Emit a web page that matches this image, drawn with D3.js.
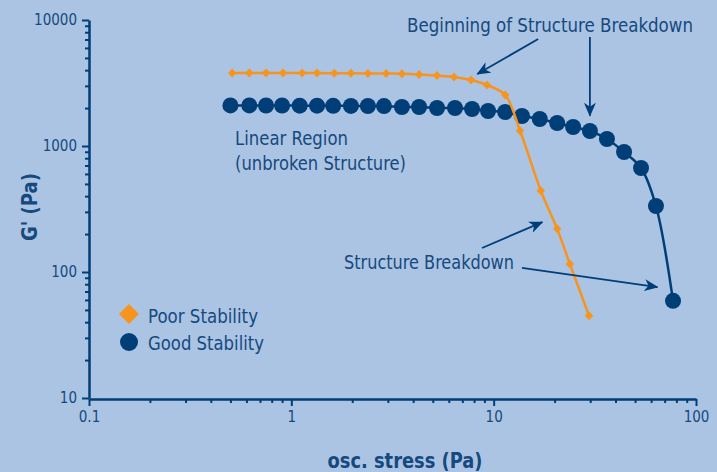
<!DOCTYPE html>
<html lang="en">
<head>
<meta charset="utf-8">
<title>G' vs osc. stress</title>
<script src="https://cdn.jsdelivr.net/npm/d3@7/dist/d3.min.js"></script>
<style>
  html, body { margin: 0; padding: 0; background: #abc4e4; }
  svg { display: block; }
  text { font-family: "DejaVu Sans Condensed", "Liberation Sans Narrow", "DejaVu Sans", sans-serif; fill: #16497d; }
  .tick text { font-size: 15px; }
</style>
</head>
<body>
<div id="chart"></div>
<script>
// stress values (Pa) and G' (Pa)
var poorX = [0.51, 0.62, 0.75, 0.91, 1.13, 1.34, 1.63, 1.97, 2.39, 2.94, 3.52, 4.28, 5.25, 6.37, 7.73, 9.27, 11.4, 13.5, 17.1, 20.6, 23.8, 29.6];
var poorY = [3800, 3800, 3800, 3790, 3790, 3790, 3780, 3780, 3770, 3760, 3750, 3700, 3620, 3530, 3340, 3050, 2540, 1320, 442, 220, 116, 45];

var goodX = [0.50, 0.62, 0.75, 0.90, 1.10, 1.34, 1.61, 1.97, 2.39, 2.87, 3.52, 4.28, 5.25, 6.44, 7.82, 9.38, 11.4, 13.8, 16.9, 20.6, 24.7, 29.9, 36.3, 44.1, 53.5, 63.4, 77.0];
var goodY = [2100, 2100, 2095, 2095, 2090, 2090, 2085, 2080, 2078, 2075, 2040, 2040, 2002, 2002, 1966, 1896, 1861, 1730, 1638, 1522, 1415, 1315, 1137, 896, 669, 334, 59];

var xMajor = [0.1, 1, 10, 100];
var xMajorLabels = ['0.1', '1', '10', '100'];
var yMajor = [10, 100, 1000, 10000];
var yMajorLabels = ['10', '100', '1000', '10000'];

var seriesNames = ['Poor Stability', 'Good Stability'];

var orange = '#f7941d';
var navy = '#003e78';

var width = 717, height = 472;

var svg = d3.select('#chart').append('svg')
  .attr('width', width)
  .attr('height', height);

svg.append('rect').attr('width', width).attr('height', height).attr('fill', '#abc4e4');

var x = d3.scaleLog().domain([0.1, 100]).range([89, 696]);
var y = d3.scaleLog().domain([10, 10000]).range([398, 20]);

function minors(lo, hi) {
  var out = [];
  for (var d = lo; d < hi; d *= 10) {
    for (var k = 2; k <= 9; k++) out.push(d * k);
  }
  return out;
}

// minor ticks
svg.append('g')
  .attr('transform', 'translate(0,399)')
  .call(d3.axisBottom(x).tickValues(minors(0.1, 100)).tickSize(4).tickFormat(''))
  .call(function(g) { g.select('.domain').remove(); });
svg.append('g')
  .attr('transform', 'translate(89,0)')
  .call(d3.axisLeft(y).tickValues(minors(10, 10000)).tickSize(4).tickFormat(''))
  .call(function(g) { g.select('.domain').remove(); });

// major ticks + labels
var xAxis = svg.append('g')
  .attr('transform', 'translate(0,399)')
  .call(d3.axisBottom(x).tickValues(xMajor).tickSizeInner(7).tickSizeOuter(0).tickPadding(5)
    .tickFormat(function(d, i) { return xMajorLabels[i]; }));
var yAxis = svg.append('g')
  .attr('transform', 'translate(89,0)')
  .call(d3.axisLeft(y).tickValues(yMajor).tickSizeInner(7).tickSizeOuter(0).tickPadding(5)
    .tickFormat(function(d, i) { return yMajorLabels[i]; }));

svg.selectAll('.domain, .tick line')
  .attr('stroke', navy)
  .attr('stroke-width', 2);
svg.selectAll('.domain').attr('stroke-width', 2.5);
svg.selectAll('.tick text').attr('fill', '#16497d').attr('font-family', null);

// axis titles
svg.append('text')
  .attr('x', 405).attr('y', 468)
  .attr('text-anchor', 'middle')
  .attr('font-weight', 'bold')
  .attr('font-size', 21)
  .attr('textLength', 155).attr('lengthAdjust', 'spacingAndGlyphs')
  .text('osc. stress (Pa)');
svg.append('text')
  .attr('transform', 'translate(37,207) rotate(-90)')
  .attr('text-anchor', 'middle')
  .attr('font-weight', 'bold')
  .attr('font-size', 21)
  .attr('textLength', 68).attr('lengthAdjust', 'spacingAndGlyphs')
  .text("G' (Pa)");

// series lines
var line = d3.line()
  .x(function(d) { return x(d[0]); })
  .y(function(d) { return y(d[1]); })
  .curve(d3.curveCatmullRom.alpha(0.5));

var poor = poorX.map(function(v, i) { return [v, poorY[i]]; });
var good = goodX.map(function(v, i) { return [v, goodY[i]]; });

svg.append('path').datum(good)
  .attr('d', line).attr('fill', 'none')
  .attr('stroke', navy).attr('stroke-width', 2.5);
svg.selectAll('.good').data(good).enter().append('circle')
  .attr('class', 'good')
  .attr('cx', function(d) { return x(d[0]); })
  .attr('cy', function(d) { return y(d[1]); })
  .attr('r', 8)
  .attr('fill', navy);

svg.append('path').datum(poor)
  .attr('d', line).attr('fill', 'none')
  .attr('stroke', orange).attr('stroke-width', 2.5);
svg.selectAll('.poor').data(poor).enter().append('path')
  .attr('class', 'poor')
  .attr('transform', function(d) { return 'translate(' + x(d[0]) + ',' + y(d[1]) + ')'; })
  .attr('d', 'M0,-4.5L4.2,0L0,4.5L-4.2,0Z')
  .attr('fill', orange);

// annotations: arrows (data coords) and texts
var defs = svg.append('defs');
defs.append('marker')
  .attr('id', 'arrow')
  .attr('markerUnits', 'userSpaceOnUse')
  .attr('viewBox', '0 0 14 12')
  .attr('markerWidth', 14).attr('markerHeight', 12)
  .attr('refX', 13).attr('refY', 6)
  .attr('orient', 'auto')
  .append('path')
  .attr('d', 'M0,0L14,6L0,12L4,6Z')
  .attr('fill', navy);

var arrows = [
  [[16.6, 7060], [8.3, 3730]],
  [[29.9, 7330], [29.9, 1740]],
  [[8.76, 155], [17.4, 249]],
  [[13.8, 108], [64.5, 76]]
];
arrows.forEach(function(a) {
  svg.append('line')
    .attr('x1', x(a[0][0])).attr('y1', y(a[0][1]))
    .attr('x2', x(a[1][0])).attr('y2', y(a[1][1]))
    .attr('stroke', navy).attr('stroke-width', 1.8)
    .attr('marker-end', 'url(#arrow)');
});

var notes = [
  { t: 'Beginning of Structure  Breakdown', x: 407, y: 32, w: 286 },
  { t: 'Linear Region', x: 235, y: 145, w: 113 },
  { t: '(unbroken Structure)', x: 235, y: 170, w: 171 },
  { t: 'Structure Breakdown', x: 344, y: 269, w: 170 }
];
notes.forEach(function(n) {
  svg.append('text')
    .attr('x', n.x).attr('y', n.y)
    .attr('font-size', 19)
    .attr('textLength', n.w).attr('lengthAdjust', 'spacingAndGlyphs')
    .text(n.t);
});

// legend
var legend = svg.append('g');
legend.append('path')
  .attr('transform', 'translate(129,314)')
  .attr('d', 'M0,-10L10,0L0,10L-10,0Z')
  .attr('fill', orange);
legend.append('circle')
  .attr('cx', 129).attr('cy', 342).attr('r', 9)
  .attr('fill', navy);
legend.selectAll('.lt').data(seriesNames).enter().append('text')
  .attr('class', 'lt')
  .attr('x', 148)
  .attr('y', function(d, i) { return 323 + i * 27; })
  .attr('font-size', 19)
  .attr('textLength', function(d, i) { return i === 0 ? 110 : 116; })
  .attr('lengthAdjust', 'spacingAndGlyphs')
  .text(function(d) { return d; });
</script>
</body>
</html>
